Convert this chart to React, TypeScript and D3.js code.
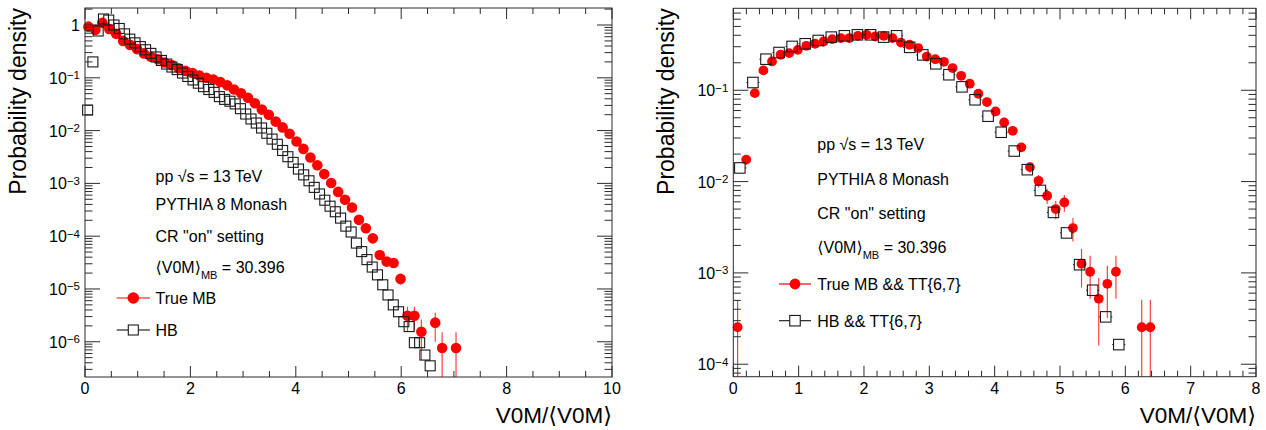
import React from "react";
import * as d3 from "d3";

const FONT = '"Liberation Sans", Arial, Helvetica, "DejaVu Sans", sans-serif';
const RED = "#ff0000";
const AXIS = "#2b2b2b";

// ---------------- data ----------------
const MEAN_V0M_MB = 30.396;
const TRUE_MB_BIN_WIDTH = 4 / MEAN_V0M_MB; // width of one V0M/<V0M> bin of the "True MB" histograms
const HB_BIN_WIDTH_LEFT = 0.1;
const HB_BIN_WIDTH_RIGHT = 0.2;

// Left panel: True MB (red circles), one value per bin (null = empty bin)
const leftTrueMB: (number | null)[] = [
  0.93, 0.81, 1.1, 0.84, 0.68, 0.5, 0.42, 0.35, 0.29, 0.25,
  0.224, 0.195, 0.174, 0.151, 0.135, 0.123, 0.11, 0.1, 0.093, 0.083,
  0.072, 0.06, 0.051, 0.042, 0.033, 0.025, 0.02, 0.0148, 0.0115, 0.0087,
  0.0062, 0.0045, 0.0031, 0.0022, 0.0015, 0.00102, 0.00069, 0.00049, 0.00035, 0.000204,
  0.000141, 9.1e-5, 4.4e-5, 3.3e-5, 3.1e-5, 1.55e-5, 3.1e-6, 3.1e-6, 1.55e-6, null,
  2.3e-6, 7.6e-7, null, 7.6e-7,
];
const leftTrueMBErr: number[] = [
  0, 0, 0, 0, 0, 0, 0, 0, 0, 0,
  0, 0, 0, 0, 0, 0, 0, 0, 0, 0,
  0, 0, 0, 0, 0, 0, 0, 0, 0, 0,
  0, 0, 0, 0, 0, 0, 0, 0, 0, 1.25e-5,
  1.04e-5, 8.3e-6, 5.8e-6, 5.0e-6, 4.9e-6, 3.4e-6, 1.5e-6, 1.5e-6, 1.1e-6, 0,
  1.3e-6, 7.6e-7, 0, 7.6e-7,
];
// Left panel: HB (open squares)
const leftHB: number[] = [
  0.0245, 0.2, 0.77, 1.3, 1.24, 1.0, 0.86, 0.68, 0.54, 0.46,
  0.39, 0.34, 0.29, 0.248, 0.213, 0.182, 0.16, 0.143, 0.123, 0.106,
  0.091, 0.079, 0.068, 0.06, 0.053, 0.044, 0.039, 0.036, 0.032, 0.026,
  0.0206, 0.0166, 0.0139, 0.0112, 0.0089, 0.0069, 0.0055, 0.0042, 0.0032, 0.0025,
  0.00187, 0.00145, 0.00112, 0.00084, 0.00063, 0.00048, 0.00037, 0.00029, 0.00022, 0.000155,
  0.00012, 7.4e-5, 5.1e-5, 3.6e-5, 2.6e-5, 1.85e-5, 1.2e-5, 7.7e-6, 5.0e-6, 3.7e-6,
  2.4e-6, 1.94e-6, 9.6e-7, 9.6e-7, 5.6e-7, 3.5e-7,
];

// Right panel: True MB && TT{6,7}
const rightTrueMB: (number | null)[] = [
  2.54e-4, 0.0174, 0.093, 0.165, 0.207, 0.245, 0.255, 0.277, 0.307, 0.323,
  0.342, 0.363, 0.373, 0.373, 0.395, 0.405, 0.388, 0.395, 0.373, 0.333,
  0.315, 0.29, 0.234, 0.219, 0.205, 0.175, 0.144, 0.118, 0.0916, 0.0743,
  0.0586, 0.0444, 0.036, 0.0237, 0.0144, 0.0102, 0.007, 0.005, 0.0059, 0.0031,
  0.00126, 0.00103, 0.00052, 0.00076, 0.00103, null, null, 2.54e-4, 2.54e-4,
];
const rightTrueMBErr: number[] = [
  2.54e-4, 2.1e-3, 4.9e-3, 6.5e-3, 7.3e-3, 7.9e-3, 8.0e-3, 8.4e-3, 8.8e-3, 9.1e-3,
  9.3e-3, 9.6e-3, 9.7e-3, 9.7e-3, 1.0e-2, 1.01e-2, 9.9e-3, 1.0e-2, 9.7e-3, 9.2e-3,
  8.9e-3, 8.6e-3, 7.7e-3, 7.5e-3, 7.2e-3, 6.7e-3, 6.0e-3, 5.5e-3, 4.8e-3, 4.3e-3,
  3.9e-3, 3.4e-3, 3.0e-3, 2.45e-3, 1.9e-3, 1.6e-3, 1.33e-3, 1.13e-3, 1.22e-3, 8.9e-4,
  5.7e-4, 5.1e-4, 3.6e-4, 4.4e-4, 5.1e-4, 0, 0, 2.54e-4, 2.54e-4,
];
// Right panel: HB && TT{6,7}
const rightHB: number[] = [
  0.0141, 0.1216, 0.219, 0.259, 0.302, 0.323, 0.351, 0.382, 0.395, 0.405,
  0.405, 0.382, 0.395, 0.295, 0.244, 0.195, 0.148, 0.109, 0.0787, 0.052,
  0.0347, 0.0216, 0.0135, 0.008, 0.0046, 0.00274, 0.00123, 0.000646, 0.00033, 0.000164,
];

const leftXTicks = [0, 2, 4, 6, 8, 10];
const rightXTicks = [0, 1, 2, 3, 4, 5, 6, 7, 8];
const leftYDecades = [0, -1, -2, -3, -4, -5, -6];
const rightYDecades = [-1, -2, -3, -4];

const X_TITLE = "V0M/⟨V0M⟩";
const Y_TITLE = "Probability density";
const infoLines = ["pp √s = 13 TeV", "PYTHIA 8 Monash", 'CR "on" setting'];
const meanLabel = ["⟨V0M⟩", "MB", ` = ${MEAN_V0M_MB}`];
const leftLegend = ["True MB", "HB"];
const rightLegend = ["True MB && TT{6,7}", "HB && TT{6,7}"];

// ---------------- panel ----------------
type PanelProps = {
  left: number; right: number; top: number; bottom: number;
  xMax: number; xTicks: number[]; xMinorStep: number;
  yMin: number; yMax: number; yDecades: number[];
  red: (number | null)[]; redErr: number[]; redR: number;
  hb: number[]; hbWidth: number; sqSize: number; hbXErr: boolean;
  yTitleX: number;
  textX: number; textBaselines: number[];
  legendLabels: string[]; legendBaselines: number[]; legendLine: [number, number];
};

function Panel(p: PanelProps) {
  const x = d3.scaleLinear().domain([0, p.xMax]).range([p.left, p.right]);
  const y = d3.scaleLog().domain([p.yMin, p.yMax]).range([p.bottom, p.top]);

  const xMinor = d3
    .range(0, p.xMax + 1e-9, p.xMinorStep)
    .filter((v) => !p.xTicks.some((t) => Math.abs(t - v) < 1e-6));
  const yMinor: number[] = [];
  for (let e = Math.floor(Math.log10(p.yMin)); e <= Math.ceil(Math.log10(p.yMax)); e++) {
    for (let m = 2; m <= 9; m++) {
      const v = m * Math.pow(10, e);
      if (v >= p.yMin && v <= p.yMax) yMinor.push(v);
    }
  }
  const XMAJ = 11, XMIN = 6, YMAJ = 15, YMIN = 7.5;

  const redPts = p.red
    .map((v, i) => ({ v, e: p.redErr[i], c: (i + 0.5) * TRUE_MB_BIN_WIDTH }))
    .filter((d) => d.v !== null && (d.v as number) > 0) as { v: number; e: number; c: number }[];
  const hbPts = p.hb.map((v, i) => ({ v, c: (i + 0.5) * p.hbWidth }));
  const s = p.sqSize;
  const lx0 = p.legendLine[0], lx1 = p.legendLine[1];
  const lxm = (lx0 + lx1) / 2;

  return (
    <g>
      {/* red error bars */}
      {redPts.map((d, i) => {
        if (!d.e) return null;
        const lo = d.v - d.e > p.yMin ? y(d.v - d.e) : p.bottom;
        const hi = Math.max(y(d.v + d.e), p.top);
        return (
          <line key={"re" + i} x1={x(d.c)} x2={x(d.c)} y1={lo} y2={hi}
            stroke={RED} strokeOpacity={0.75} strokeWidth={1.2} />
        );
      })}
      {/* red markers */}
      {redPts.map((d, i) => (
        <circle key={"rc" + i} cx={x(d.c)} cy={y(d.v)} r={p.redR} fill={RED} />
      ))}
      {/* HB squares */}
      {hbPts.map((d, i) => {
        const cx = x(d.c), cy = y(d.v);
        return (
          <g key={"sq" + i}>
            {p.hbXErr && (
              <>
                <line x1={x(d.c - p.hbWidth / 2)} x2={cx - s / 2} y1={cy} y2={cy} stroke="#111" strokeWidth={1} />
                <line x1={cx + s / 2} x2={x(d.c + p.hbWidth / 2)} y1={cy} y2={cy} stroke="#111" strokeWidth={1} />
              </>
            )}
            <rect x={cx - s / 2} y={cy - s / 2} width={s} height={s} fill="none" stroke="#1a1a1a" strokeWidth={1.1} />
          </g>
        );
      })}

      {/* frame */}
      <rect x={p.left} y={p.top} width={p.right - p.left} height={p.bottom - p.top} fill="none" stroke={AXIS} strokeWidth={1} />
      {/* x ticks */}
      {p.xTicks.map((t) => (
        <g key={"xt" + t}>
          <line x1={x(t)} x2={x(t)} y1={p.bottom} y2={p.bottom - XMAJ} stroke={AXIS} />
          <line x1={x(t)} x2={x(t)} y1={p.top} y2={p.top + XMAJ} stroke={AXIS} />
          <text x={x(t)} y={393.5} textAnchor="middle" fontSize={16} fontFamily={FONT}>{String(t)}</text>
        </g>
      ))}
      {xMinor.map((t, i) => (
        <g key={"xm" + i}>
          <line x1={x(t)} x2={x(t)} y1={p.bottom} y2={p.bottom - XMIN} stroke={AXIS} />
          <line x1={x(t)} x2={x(t)} y1={p.top} y2={p.top + XMIN} stroke={AXIS} />
        </g>
      ))}
      {/* y ticks */}
      {p.yDecades.map((e) => {
        const yy = y(Math.pow(10, e));
        return (
          <g key={"yt" + e}>
            <line x1={p.left} x2={p.left + YMAJ} y1={yy} y2={yy} stroke={AXIS} />
            <line x1={p.right} x2={p.right - YMAJ} y1={yy} y2={yy} stroke={AXIS} />
            <text x={p.left - 5} y={yy + 6} textAnchor="end" fontSize={16} fontFamily={FONT}>
              {e === 0 ? "1" : (
                <>
                  10
                  <tspan dy={-4.5} fontSize={11.5}>{"−" + String(-e)}</tspan>
                </>
              )}
            </text>
          </g>
        );
      })}
      {yMinor.map((v, i) => (
        <g key={"ym" + i}>
          <line x1={p.left} x2={p.left + YMIN} y1={y(v)} y2={y(v)} stroke={AXIS} />
          <line x1={p.right} x2={p.right - YMIN} y1={y(v)} y2={y(v)} stroke={AXIS} />
        </g>
      ))}

      {/* axis titles */}
      <text x={p.right} y={423.3} textAnchor="end" fontSize={22.5} fontFamily={FONT}>{X_TITLE}</text>
      <text transform={`translate(${p.yTitleX},${p.top}) rotate(-90)`} textAnchor="end" fontSize={23} fontFamily={FONT}>
        {Y_TITLE}
      </text>

      {/* info text */}
      {infoLines.map((t, i) => (
        <text key={"info" + i} x={p.textX} y={p.textBaselines[i]} fontSize={16} fontFamily={FONT}>{t}</text>
      ))}
      <text x={p.textX} y={p.textBaselines[3]} fontSize={16} fontFamily={FONT}>
        {meanLabel[0]}
        <tspan dy={5.5} fontSize={11}>{meanLabel[1]}</tspan>
        <tspan dy={-5.5}>{meanLabel[2]}</tspan>
      </text>

      {/* legend */}
      <line x1={lx0} x2={lx1} y1={p.legendBaselines[0] - 6} y2={p.legendBaselines[0] - 6} stroke={RED} strokeWidth={1.2} />
      <circle cx={lxm} cy={p.legendBaselines[0] - 6} r={p.redR + 0.5} fill={RED} />
      <text x={p.textX} y={p.legendBaselines[0]} fontSize={16} fontFamily={FONT}>{p.legendLabels[0]}</text>
      <line x1={lx0} x2={lxm - s / 2} y1={p.legendBaselines[1] - 6} y2={p.legendBaselines[1] - 6} stroke="#111" strokeWidth={1.1} />
      <line x1={lxm + s / 2} x2={lx1} y1={p.legendBaselines[1] - 6} y2={p.legendBaselines[1] - 6} stroke="#111" strokeWidth={1.1} />
      <rect x={lxm - s / 2} y={p.legendBaselines[1] - 6 - s / 2} width={s} height={s} fill="none" stroke="#1a1a1a" strokeWidth={1.1} />
      <text x={p.textX} y={p.legendBaselines[1]} fontSize={16} fontFamily={FONT}>{p.legendLabels[1]}</text>
    </g>
  );
}

export default function App() {
  return (
    <svg width={1266} height={430} style={{ position: "absolute", left: 0, top: 0, background: "#fff" }}>
      <rect x={0} y={0} width={1266} height={430} fill="#fff" />
      <Panel
        left={85} right={612} top={8} bottom={377}
        xMax={10} xTicks={leftXTicks} xMinorStep={0.5}
        yMin={2.15e-7} yMax={2.1} yDecades={leftYDecades}
        red={leftTrueMB} redErr={leftTrueMBErr} redR={5.3}
        hb={leftHB} hbWidth={HB_BIN_WIDTH_LEFT} sqSize={10} hbXErr={false}
        yTitleX={26}
        textX={155.5} textBaselines={[181.5, 210, 241.7, 273.3]}
        legendLabels={leftLegend} legendBaselines={[304, 336]} legendLine={[116.7, 149.9]}
      />
      <Panel
        left={733.3} right={1256} top={8.3} bottom={376.7}
        xMax={8} xTicks={rightXTicks} xMinorStep={0.2}
        yMin={7.3e-5} yMax={0.79} yDecades={rightYDecades}
        red={rightTrueMB} redErr={rightTrueMBErr} redR={4.9}
        hb={rightHB} hbWidth={HB_BIN_WIDTH_RIGHT} sqSize={10.5} hbXErr={true}
        yTitleX={673.5}
        textX={817.3} textBaselines={[149.5, 184.5, 219, 253.3]}
        legendLabels={rightLegend} legendBaselines={[290, 326.7]} legendLine={[779, 811]}
      />
    </svg>
  );
}
